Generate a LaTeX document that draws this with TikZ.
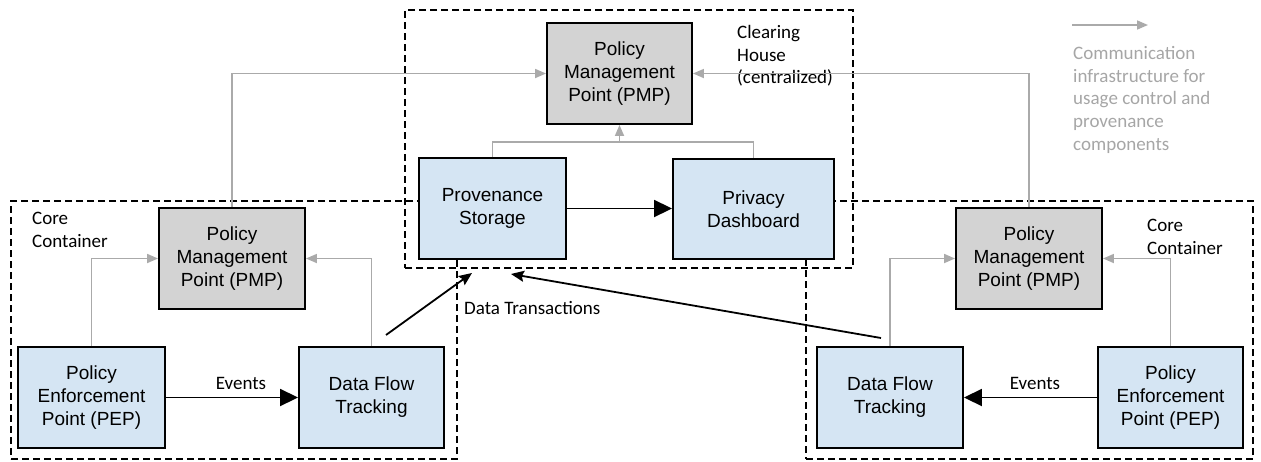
\documentclass[tikz,border=0pt]{standalone}
\usepackage{fontspec}
\setmainfont{Liberation Sans}
\newfontfamily\calfont{Carlito}
\usetikzlibrary{arrows.meta}
\definecolor{boxblue}{HTML}{D5E5F3}
\definecolor{boxgray}{HTML}{D3D3D3}
\definecolor{linegray}{HTML}{AAAAAA}
\definecolor{textgray}{HTML}{A6A6A6}
\tikzset{
  comp/.style={draw=black, line width=1.9pt, align=center, inner sep=0pt,
    font=\fontsize{19}{23}\selectfont, text=black},
  bluebox/.style={comp, fill=boxblue},
  graybox/.style={comp, fill=boxgray},
  container/.style={draw=black, line width=1.8pt, dash pattern=on 7pt off 4pt, inner sep=0pt},
  infra/.style={draw=linegray, line width=1.7pt, -{Triangle[length=11pt,width=9pt]}},
  infraline/.style={draw=linegray, line width=1.7pt},
  bigarrow/.style={draw=black, line width=1.9pt, -{Triangle[length=18pt,width=17pt]}},
  txarrow/.style={draw=black, line width=1.8pt, -{Stealth[length=13pt,width=11pt,inset=2pt]}},
  lbl/.style={font=\calfont\fontsize{19}{22.7}\selectfont, align=left, inner sep=0pt},
}
\begin{document}
\begin{tikzpicture}[x=1pt,y=-1pt]
\useasboundingbox (0,0) rectangle (1261,461);
% containers
\node[container, minimum width=448pt, minimum height=258pt] (ch) at (629,139) {};
\node[container, minimum width=446pt, minimum height=258pt] (lcc) at (234,330) {};
\node[container, minimum width=447pt, minimum height=258pt] (rcc) at (1029.5,330) {};
% components
\node[graybox, minimum width=145pt, minimum height=101pt] (topPMP) at (619.5,73.5) {Policy\\Management\\Point (PMP)};
\node[bluebox, minimum width=147pt, minimum height=101pt] (prov) at (492.5,208.5) {Provenance\\Storage};
\node[bluebox, minimum width=161pt, minimum height=100pt] (priv) at (753.5,209) {Privacy\\Dashboard};
\node[graybox, minimum width=146pt, minimum height=101pt] (lPMP) at (232,258.5) {Policy\\Management\\Point (PMP)};
\node[bluebox, minimum width=147pt, minimum height=101pt] (lPEP) at (91.5,397.5) {Policy\\Enforcement\\Point (PEP)};
\node[bluebox, minimum width=145pt, minimum height=101pt] (lDFT) at (371.5,397.5) {Data Flow\\Tracking};
\node[graybox, minimum width=146pt, minimum height=101pt] (rPMP) at (1029,258.5) {Policy\\Management\\Point (PMP)};
\node[bluebox, minimum width=146pt, minimum height=101pt] (rDFT) at (890,397.5) {Data Flow\\Tracking};
\node[bluebox, minimum width=145pt, minimum height=101pt] (rPEP) at (1170.5,397.5) {Policy\\Enforcement\\Point (PEP)};
% labels
\node[lbl, anchor=north west] (chl) at (737,25) {Clearing\\House\\(centralized)};
\node[lbl, anchor=north west] (lccl) at (32,212) {Core\\Container};
\node[lbl, anchor=north west] (rccl) at (1147,219) {Core\\Container};
\node[lbl, anchor=west] (dtl) at (464,308) {Data Transactions};
\node[lbl] (ev1) at (241,383) {Events};
\node[lbl] (ev2) at (1035,383) {Events};
% legend
\coordinate (legA) at (1072,25);
\coordinate (legB) at (1148,25);
\draw[infra] (legA) -- (legB);
\node[lbl, anchor=north west, text=textgray] (legt) at (1073,46) {Communication\\infrastructure for\\usage control and\\provenance\\components};
% gray infrastructure connectors
\draw[infra] (lPEP.north) |- (lPMP.west);
\draw[infra] (lDFT.north) |- (lPMP.east);
\draw[infra] (lPMP.north) |- (topPMP.west);
\draw[infra] (rDFT.north) |- (rPMP.west);
\draw[infra] (rPEP.north) |- (rPMP.east);
\draw[infra] (rPMP.north) |- (topPMP.east);
\coordinate (junc) at (619.5,142);
\draw[infraline] (prov.north) |- (junc) -| (priv.north);
\draw[infra] (junc) -- (topPMP.south);
% black arrows
\draw[bigarrow] (prov.east) -- (prov.east -| priv.west);
\draw[bigarrow] (lPEP.east) -- (lDFT.west);
\draw[bigarrow] (rPEP.west) -- (rDFT.east);
\coordinate (dtLs) at (386,335);
\coordinate (dtLe) at (472,273);
\coordinate (dtRs) at (881,338);
\coordinate (dtRe) at (511,274);
\draw[txarrow] (dtLs) -- (dtLe);
\draw[txarrow] (dtRs) -- (dtRe);
\end{tikzpicture}
\end{document}
